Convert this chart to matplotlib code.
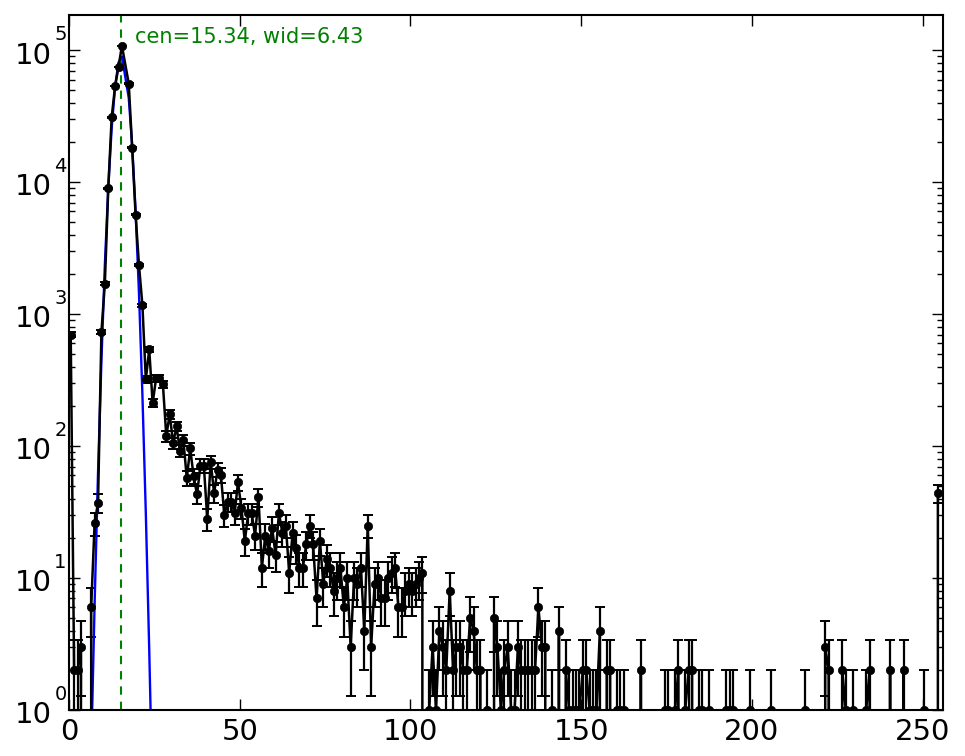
import numpy as np
import matplotlib
matplotlib.use("Agg")
import matplotlib.pyplot as plt
from matplotlib.ticker import NullFormatter, LogLocator

plt.style.use('classic')

# ---- data ----
chan_nz = [0, 1, 2, 3, 6, 7, 8, 9, 10, 11, 12, 13, 14, 15, 17, 18, 19, 20, 21, 22,
           23, 24, 25, 26, 27, 28, 29, 30, 31, 32, 33, 34, 35, 36, 37, 38, 39, 40, 41, 42,
           43, 44, 45, 46, 47, 48, 49, 50, 51, 52, 53, 54, 55, 56, 57, 58, 59, 60, 61, 62,
           63, 64, 65, 66, 67, 68, 69, 70, 71, 72, 73, 74, 75, 76, 77, 78, 79, 80, 81, 82,
           83, 84, 85, 86, 87, 88, 89, 90, 91, 92, 93, 94, 95, 96, 97, 98, 99, 100, 101, 102,
           103, 105, 106, 107, 108, 109, 110, 111, 112, 113, 114, 115, 116, 117, 118, 119, 120, 122, 124, 125,
           126, 127, 128, 129, 130, 131, 132, 133, 134, 135, 136, 137, 138, 139, 141, 143, 145, 146, 147, 148,
           149, 150, 151, 152, 153, 154, 155, 157, 158, 160, 161, 162, 167, 174, 175, 177, 178, 180, 181, 182,
           184, 185, 187, 192, 193, 194, 199, 205, 215, 221, 222, 226, 227, 229, 233, 234, 240, 244, 250, 254]
cnt_nz = [700, 2, 2, 3, 6, 26, 37, 734, 1700, 8960, 31000, 53400, 74700, 108000, 55900, 18200, 5690, 2350, 1170, 320,
          540, 211, 326, 326, 295, 119, 175, 105, 141, 92, 111, 57, 96, 59, 43, 71, 71, 28, 76, 44,
          66, 60, 30, 38, 38, 31, 53, 34, 19, 31, 31, 21, 41, 12, 21, 16, 24, 15, 31, 22,
          25, 11, 22, 17, 12, 12, 18, 25, 18, 7, 19, 9, 14, 12, 8, 10, 12, 6, 10, 3,
          10, 9, 12, 4, 25, 3, 9, 10, 7, 7, 10, 11, 12, 6, 6, 8, 9, 8, 9, 10,
          11, 1, 3, 1, 4, 3, 2, 8, 2, 3, 3, 2, 2, 5, 4, 2, 2, 1, 5, 3,
          1, 2, 3, 1, 1, 3, 2, 2, 2, 2, 2, 6, 3, 3, 1, 4, 2, 1, 1, 1,
          1, 2, 2, 1, 1, 1, 4, 2, 2, 1, 1, 1, 2, 1, 1, 1, 2, 1, 2, 2,
          1, 1, 1, 1, 1, 1, 1, 1, 1, 3, 2, 2, 1, 1, 1, 2, 2, 2, 1, 44]
missing_chan = [16]          # channel not present in the plotted data
n_chan = 255

fit_amp = 90000.0
fit_cen = 15.34
fit_wid = 6.43

decades = [0, 1, 2, 3, 4, 5]

# ---- build arrays ----
counts = np.zeros(n_chan)
counts[chan_nz] = cnt_nz
chan = np.arange(n_chan)
keep = ~np.isin(chan, missing_chan)
x = chan[keep] + 0.5
y = counts[keep]
yerr = np.sqrt(y)
model = fit_amp * np.exp(-(x - fit_cen) ** 2 / fit_wid)

fig = plt.figure(figsize=(9.65, 7.56), dpi=100, facecolor='white')
ax = fig.add_axes([69 / 965, 1 - 710 / 756, (943 - 69) / 965, (710 - 15) / 756])
ax.set_yscale('log')

ax.errorbar(x, y, yerr=yerr, fmt='o-', color='k', mec='k', mfc='k', ms=6,
            lw=1.8, elinewidth=1.6, capsize=3.6, capthick=1.4)
ax.plot(x, model, '-', color='b', lw=1.7)
ax.axvline(fit_cen, color='g', ls='--', lw=1.5, dashes=(6, 5))
ax.text(19.3, 1.27e5, 'cen=%.2f, wid=%.2f' % (fit_cen, fit_wid), color='g',
        fontsize=15, va='center', ha='left')

ax.set_xlim(0, 256)
ax.set_ylim(1, 1.85e5)
ax.set_xticks([0, 50, 100, 150, 200, 250])
ax.yaxis.set_major_locator(LogLocator(base=10))
ax.yaxis.set_major_formatter(NullFormatter())
for sp in ax.spines.values():
    sp.set_linewidth(1.5)
ax.tick_params(axis='both', which='major', labelsize=21, length=8, width=1)
ax.tick_params(axis='both', which='minor', length=4, width=1)
ax.tick_params(axis='x', pad=6)

# y tick labels in the old-style "10" + raised exponent layout
for k in decades:
    ax.annotate('10', xy=(0, 10.0 ** k), xycoords=('axes fraction', 'data'),
                xytext=(-12.2, -3.8), textcoords='offset points', ha='right',
                va='center', fontsize=21, annotation_clip=False)
    ax.annotate(str(k), xy=(0, 10.0 ** k), xycoords=('axes fraction', 'data'),
                xytext=(-6.2, 11.5), textcoords='offset points', ha='center',
                va='center', fontsize=14, annotation_clip=False)

fig.savefig('out.png', dpi=100, facecolor='white')
